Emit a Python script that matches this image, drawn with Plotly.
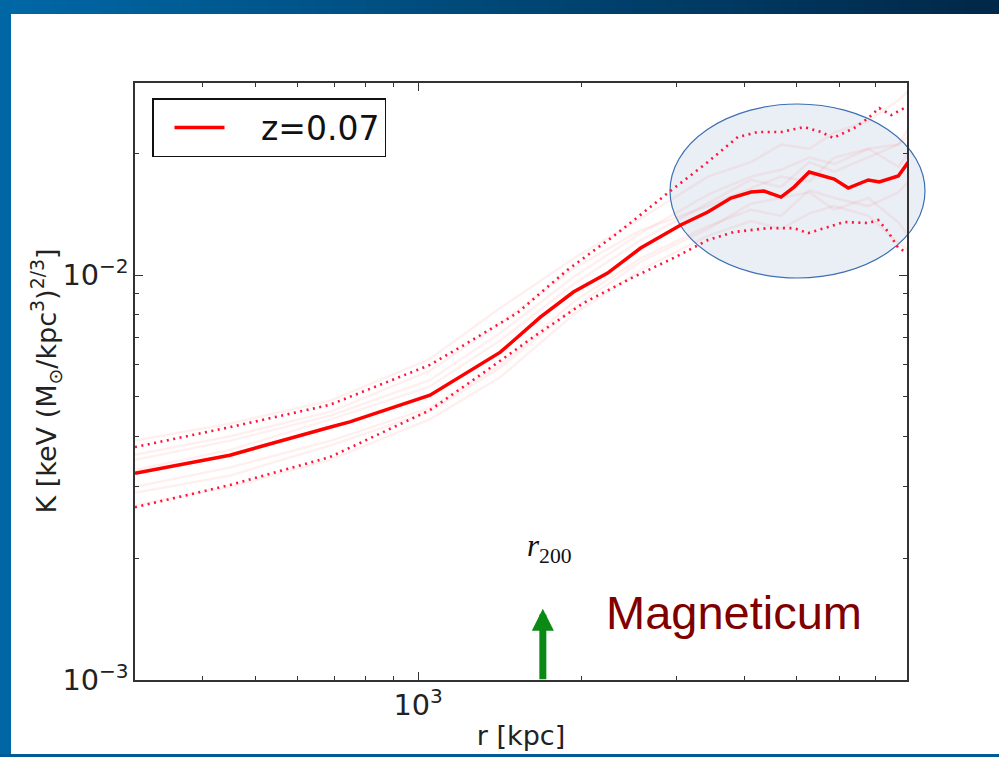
import numpy as np
import plotly.graph_objects as go

# Radial bins [kpc] and median entropy profile K [keV (Msun/kpc^3)^(2/3)] at z=0.07
r_mean = [300, 449, 687, 748, 1052, 1232, 1419, 1682, 1936, 2239, 2577, 3056, 3429,
          3783, 4120, 4355, 4681, 4948, 5276, 5869, 6231, 6785, 7110, 7709, 8045]
k_mean = [3.24e-3, 3.59e-3, 4.21e-3, 4.34e-3, 5.05e-3, 5.73e-3, 6.45e-3, 7.87e-3, 9.08e-3,
          10.11e-3, 11.66e-3, 13.29e-3, 14.31e-3, 15.49e-3, 16.03e-3, 16.12e-3, 15.58e-3,
          16.49e-3, 17.96e-3, 17.26e-3, 16.40e-3, 17.17e-3, 16.97e-3, 17.56e-3, 19.01e-3]

# Upper scatter envelope
r_upper = [300, 449, 687, 1052, 1232, 1525, 1887, 2336, 2892, 3231, 3429, 3896, 4245,
           4681, 5164, 5552, 5844, 6391, 6785, 7110, 7483, 7908]
k_upper = [3.76e-3, 4.21e-3, 4.78e-3, 6.00e-3, 6.79e-3, 8.06e-3, 10.29e-3, 12.69e-3,
           15.94e-3, 17.86e-3, 19.01e-3, 21.92e-3, 22.55e-3, 22.55e-3, 23.20e-3, 22.55e-3,
           21.80e-3, 23.07e-3, 24.42e-3, 25.85e-3, 24.84e-3, 25.85e-3]

# Lower scatter envelope
r_lower = [300, 449, 687, 1052, 1319, 1633, 2021, 2501, 2966, 3429, 3830, 4430, 4948,
           5254, 5720, 6124, 6785, 7079, 7388, 7709, 8045]
k_lower = [2.67e-3, 3.03e-3, 3.55e-3, 4.64e-3, 5.73e-3, 7.03e-3, 8.53e-3, 9.89e-3,
           11.02e-3, 12.20e-3, 12.77e-3, 13.06e-3, 13.06e-3, 12.69e-3, 13.14e-3, 13.52e-3,
           13.44e-3, 13.67e-3, 12.77e-3, 11.66e-3, 11.33e-3]

# Individual cluster profiles (faint background curves)
r_halo = [300, 450, 690, 1050, 1420, 1940, 2580, 3430, 4120, 4680, 5280, 5870, 6790, 7710, 8050]
halo_a = [3.9e-3, 4.3e-3, 4.9e-3, 6.2e-3, 8.3e-3, 11.0e-3, 13.8e-3, 17.5e-3, 19.0e-3, 21.0e-3, 20.5e-3, 22.5e-3, 24.0e-3, 27.0e-3, 28.5e-3]
halo_b = [3.5e-3, 3.9e-3, 4.5e-3, 5.5e-3, 7.2e-3, 9.9e-3, 12.7e-3, 15.8e-3, 17.5e-3, 18.2e-3, 19.5e-3, 18.8e-3, 20.5e-3, 21.0e-3, 22.0e-3]
halo_c = [3.0e-3, 3.35e-3, 3.9e-3, 4.7e-3, 6.0e-3, 8.6e-3, 11.0e-3, 13.2e-3, 14.5e-3, 14.0e-3, 16.2e-3, 15.5e-3, 14.8e-3, 16.0e-3, 17.0e-3]
halo_d = [2.7e-3, 3.0e-3, 3.5e-3, 4.4e-3, 5.6e-3, 8.0e-3, 10.3e-3, 12.5e-3, 13.6e-3, 13.0e-3, 14.2e-3, 14.8e-3, 14.0e-3, 12.0e-3, 11.5e-3]
halo_e = [3.3e-3, 3.7e-3, 4.4e-3, 5.3e-3, 6.9e-3, 9.5e-3, 12.2e-3, 15.0e-3, 17.2e-3, 16.5e-3, 19.0e-3, 18.0e-3, 19.5e-3, 21.0e-3, 23.0e-3]
halo_f = [2.9e-3, 3.2e-3, 3.8e-3, 4.6e-3, 5.9e-3, 8.3e-3, 10.8e-3, 13.0e-3, 15.0e-3, 15.5e-3, 16.0e-3, 14.5e-3, 15.5e-3, 13.5e-3, 12.5e-3]
halo_g = [3.6e-3, 4.0e-3, 4.6e-3, 5.8e-3, 7.6e-3, 10.4e-3, 12.9e-3, 14.8e-3, 16.4e-3, 17.5e-3, 17.0e-3, 19.5e-3, 20.5e-3, 18.5e-3, 20.0e-3]

R200 = 1700          # kpc
R_RANGE = [300, 8000]
K_RANGE = [1e-3, 0.0298]

W, H = 999, 757
ML, MR, MT, MB = 135, 92, 83, 77
PW, PH = W - ML - MR, H - MT - MB


def px(x):
    return (x - ML) / PW


def py(y):
    return (H - MB - y) / PH


FONT = "DejaVu Sans"
RED = "#ff0000"
NB = "\u00a0"

fig = go.Figure()

for prof in [halo_a, halo_b, halo_c, halo_d, halo_e, halo_f, halo_g]:
    fig.add_trace(go.Scatter(x=r_halo, y=prof, mode="lines", showlegend=False,
                             hoverinfo="skip",
                             line=dict(color="rgba(255,60,60,0.08)", width=2.5)))

for rr, kk in [(r_upper, k_upper), (r_lower, k_lower)]:
    fig.add_trace(go.Scatter(x=rr, y=kk, mode="lines", showlegend=False,
                             line=dict(color="rgb(255,20,60)", width=2.6, dash="2px,4.5px")))

fig.add_trace(go.Scatter(x=r_mean, y=k_mean, mode="lines", name=NB * 3 + "z=0.07",
                         line=dict(color=RED, width=3.5)))

axis_common = dict(
    type="log", showline=True, linecolor="#333333", linewidth=1.5, mirror="allticks",
    ticks="inside", ticklen=8, tickwidth=1.2, tickcolor="#333333",
    showgrid=False, zeroline=False, dtick=1, exponentformat="power",
    tickfont=dict(family=FONT, size=23, color="#222222"),
    minor=dict(ticks="inside", ticklen=4, tickwidth=1, tickcolor="#333333",
               dtick="D1", showgrid=False),
)

fig.update_xaxes(**axis_common, range=[np.log10(R_RANGE[0]), np.log10(R_RANGE[1])],
                 title=dict(text="r [kpc]", font=dict(family=FONT, size=27, color="#222222"),
                            standoff=5))
fig.update_yaxes(**axis_common, range=[np.log10(K_RANGE[0]), np.log10(K_RANGE[1])])

shapes = []
# slide frame: gradient bar on top, plain bars on left and bottom
n_strips = 60
c0, c1 = np.array([0, 104, 166]), np.array([0, 40, 72])
for i in range(n_strips):
    t = i / (n_strips - 1)
    c = (c0 * (1 - t) + c1 * t).astype(int)
    shapes.append(dict(type="rect", xref="paper", yref="paper", layer="above",
                       x0=px(i * W / n_strips), x1=px((i + 1) * W / n_strips + 1),
                       y0=py(14), y1=py(0), line=dict(width=0),
                       fillcolor=f"rgb({c[0]},{c[1]},{c[2]})"))
shapes.append(dict(type="rect", xref="paper", yref="paper", layer="above",
                   x0=px(0), x1=px(11), y0=py(H), y1=py(0), line=dict(width=0),
                   fillcolor="rgb(0,102,164)"))
shapes.append(dict(type="rect", xref="paper", yref="paper", layer="above",
                   x0=px(0), x1=px(W), y0=py(H), y1=py(754), line=dict(width=0),
                   fillcolor="rgb(0,90,150)"))
# highlighted outskirts region
shapes.append(dict(type="circle", xref="paper", yref="paper", layer="below",
                   x0=px(670), x1=px(925), y0=py(278), y1=py(104),
                   fillcolor="rgb(234,239,246)",
                   line=dict(color="rgb(60,110,180)", width=1.2)))

annotations = [
    # y-axis label
    dict(x=px(46), y=0.5, xref="paper", yref="paper", showarrow=False, textangle=-90,
         xanchor="center", yanchor="middle",
         text="K [keV (M<sub>\u2299</sub>/kpc<sup>3</sup>)<sup>2/3</sup>]",
         font=dict(family=FONT, size=27, color="#222222")),
    # r200 marker
    dict(x=np.log10(R200), y=np.log10(1.5e-3), xref="x", yref="y", text="",
         showarrow=True, ax=0, ay=72, arrowhead=2, arrowsize=0.63, arrowwidth=7,
         arrowcolor="#0a8a14", standoff=0),
    dict(x=px(549), y=py(570), xref="paper", yref="paper", showarrow=False,
         text="<i>r</i><sub>200</sub>",
         font=dict(family="Liberation Serif", size=31, color="#111111")),
    dict(x=px(604), y=py(612), xref="paper", yref="paper", showarrow=False,
         xanchor="left", yanchor="middle", text="Magneticum",
         font=dict(family="Liberation Sans", size=47, color="#800000")),
]

fig.update_layout(
    width=W, height=H,
    margin=dict(l=ML, r=MR, t=MT, b=MB, autoexpand=False),
    paper_bgcolor="white", plot_bgcolor="rgba(0,0,0,0)",
    shapes=shapes, annotations=annotations,
    showlegend=True,
    legend=dict(x=px(152), y=py(98), xanchor="left", yanchor="top",
                bgcolor="white", bordercolor="#111111", borderwidth=1.5,
                font=dict(family=FONT, size=33, color="#111111"),
                itemwidth=50, indentation=16),
)

fig.write_html("out.html")
